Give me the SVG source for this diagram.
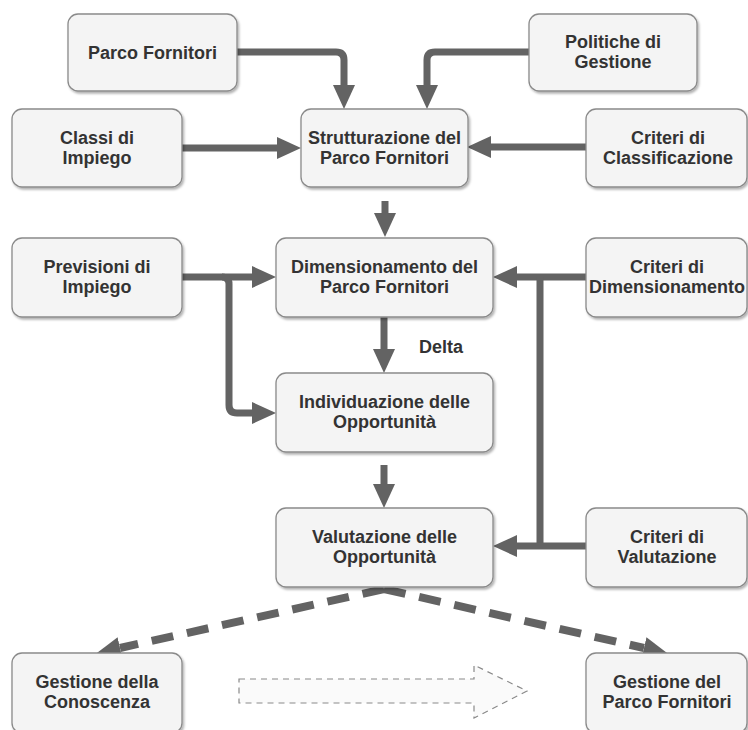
<svg xmlns="http://www.w3.org/2000/svg" width="748" height="730" viewBox="0 0 748 730">
  <defs>
    <filter id="shadow" x="-10%" y="-10%" width="125%" height="130%">
      <feDropShadow dx="1.5" dy="2" stdDeviation="1.2" flood-color="#000" flood-opacity="0.3"/>
    </filter>
    <marker id="head" markerUnits="userSpaceOnUse" markerWidth="26" markerHeight="24" refX="0" refY="12" orient="auto">
      <path d="M0,1 L24,12 L0,23 z" fill="#636363"/>
    </marker>
    <style>
      .box { fill: #f4f4f4; stroke: #8a8a8a; stroke-width: 1.3; filter: url(#shadow); }
      .lbl { font-family: "Liberation Sans", Arial, Helvetica, sans-serif; font-weight: bold; font-size: 18px; fill: #333; text-anchor: middle; }
      .flow { fill: none; stroke: #636363; stroke-width: 7; marker-end: url(#head); }
      .bar { fill: none; stroke: #636363; stroke-width: 7; }
      .dash { fill: none; stroke: #636363; stroke-width: 8; stroke-dasharray: 22 14; marker-end: url(#head); }
      .hollow { fill: #fafafa; stroke: #8a8a8a; stroke-width: 1.2; stroke-dasharray: 6 5; }
    </style>
  </defs>
  <rect width="748" height="730" fill="#ffffff"/>

  <!-- connectors -->
  <g id="connectors">
    <path class="flow" d="M237,52 H336 Q344,52 344,60 V85"/>
    <path class="flow" d="M529,52 H435 Q427,52 427,60 V85"/>
    <path class="flow" d="M182,148 H277"/>
    <path class="flow" d="M586,147 H491"/>
    <path class="flow" d="M385,201 V213"/>
    <path class="flow" d="M182,277 H252"/>
    <path class="flow" d="M222,277 Q229,277 229,284 V405 Q229,413 237,413 H252"/>
    <path class="flow" d="M586,277 H517"/>
    <path class="bar" d="M540,277 V546"/>
    <path class="flow" d="M586,546 H517"/>
    <path class="flow" d="M384,317 V349"/>
    <path class="flow" d="M384,465 V484"/>
    <path class="dash" d="M384,589 L120,648"/>
    <path class="dash" d="M384,589 L644,648"/>
    <polygon class="hollow" points="239,679 474,679 474,665 527,691 474,718 474,703 239,703"/>
  </g>

  <g id="parco-fornitori">
    <rect class="box" x="68" y="14" width="169" height="77" rx="10"/>
    <text class="lbl" x="152.5" y="59">Parco Fornitori</text>
  </g>
  <g id="politiche-gestione">
    <rect class="box" x="529" y="14" width="168" height="77" rx="10"/>
    <text class="lbl" x="613" y="48">Politiche di</text>
    <text class="lbl" x="613" y="68">Gestione</text>
  </g>
  <g id="classi-impiego">
    <rect class="box" x="12" y="109" width="170" height="78" rx="10"/>
    <text class="lbl" x="97" y="144">Classi di</text>
    <text class="lbl" x="97" y="164">Impiego</text>
  </g>
  <g id="strutturazione">
    <rect class="box" x="301" y="109" width="167" height="78" rx="10"/>
    <text class="lbl" x="384.5" y="144">Strutturazione del</text>
    <text class="lbl" x="384.5" y="164">Parco Fornitori</text>
  </g>
  <g id="criteri-classificazione">
    <rect class="box" x="586" y="109" width="161" height="78" rx="10"/>
    <text class="lbl" x="668" y="144">Criteri di</text>
    <text class="lbl" x="668" y="164">Classificazione</text>
  </g>
  <g id="previsioni-impiego">
    <rect class="box" x="12" y="238" width="170" height="79" rx="10"/>
    <text class="lbl" x="97" y="273">Previsioni di</text>
    <text class="lbl" x="97" y="293">Impiego</text>
  </g>
  <g id="dimensionamento">
    <rect class="box" x="276" y="238" width="217" height="79" rx="10"/>
    <text class="lbl" x="384.5" y="273">Dimensionamento del</text>
    <text class="lbl" x="384.5" y="293">Parco Fornitori</text>
  </g>
  <g id="criteri-dimensionamento">
    <rect class="box" x="586" y="238" width="161" height="79" rx="10"/>
    <text class="lbl" x="667" y="273">Criteri di</text>
    <text class="lbl" x="667" y="293">Dimensionamento</text>
  </g>
  <text class="lbl" x="441" y="353">Delta</text>
  <g id="individuazione">
    <rect class="box" x="276" y="373" width="217" height="79" rx="10"/>
    <text class="lbl" x="384.5" y="408">Individuazione delle</text>
    <text class="lbl" x="384.5" y="428">Opportunità</text>
  </g>
  <g id="valutazione">
    <rect class="box" x="276" y="508" width="217" height="79" rx="10"/>
    <text class="lbl" x="384.5" y="543">Valutazione delle</text>
    <text class="lbl" x="384.5" y="563">Opportunità</text>
  </g>
  <g id="criteri-valutazione">
    <rect class="box" x="586" y="508" width="161" height="79" rx="10"/>
    <text class="lbl" x="667" y="543">Criteri di</text>
    <text class="lbl" x="667" y="563">Valutazione</text>
  </g>
  <g id="gestione-conoscenza">
    <rect class="box" x="12" y="653" width="170" height="80" rx="10"/>
    <text class="lbl" x="97" y="688">Gestione della</text>
    <text class="lbl" x="97" y="708">Conoscenza</text>
  </g>
  <g id="gestione-parco">
    <rect class="box" x="586" y="653" width="161" height="80" rx="10"/>
    <text class="lbl" x="667" y="688">Gestione del</text>
    <text class="lbl" x="667" y="708">Parco Fornitori</text>
  </g>
</svg>
